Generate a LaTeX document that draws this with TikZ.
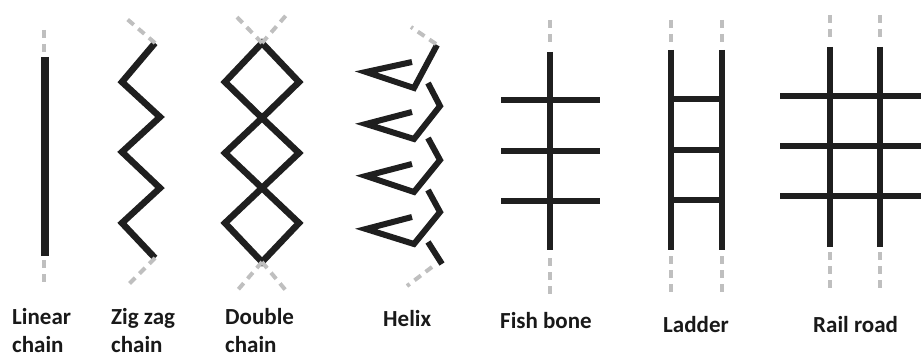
\documentclass[tikz,border=0pt]{standalone}
\usepackage{fontspec}
\setmainfont{Carlito}
\begin{document}
\begin{tikzpicture}[x=1pt,y=-1pt,
  chainline/.style={line width=6.5pt,color=black!88},
  helixline/.style={chainline,line width=6pt,line join=miter,miter limit=25},
  ghost/.style={line width=4pt,color=black!25,dash pattern=on 8pt off 6pt},
  lbl/.style={anchor=base west,inner sep=0pt,font=\fontsize{23}{28}\selectfont\bfseries,text=black!90,align=left}]
\useasboundingbox (0,0) rectangle (921,358);
% Linear chain
\draw[chainline,line width=8pt] (45,57) -- (45,256);
\draw[ghost] (44,30) -- (44,54);
\draw[ghost] (44,260) -- (44,286);
\node[lbl] (l1) at (12,324) {Linear};
\node[lbl] (l1b) at (12,352) {chain};
% Zig zag chain
\draw[chainline] (155,43) -- (122,82) -- (160,117) -- (122,152) -- (160,188) -- (122,223) -- (155,258);
\draw[ghost] (155,43) -- (127,19);
\draw[ghost] (155,258) -- (127,286);
\node[lbl] (l2) at (111,324) {Zig zag};
\node[lbl] (l2b) at (111,352) {chain};
% Double chain
\draw[chainline] (262,43) -- (225,82) -- (262,118) -- (299,82) -- cycle;
\draw[chainline] (262,118) -- (225,153) -- (262,188) -- (299,153) -- cycle;
\draw[chainline] (262,188) -- (225,223) -- (262,262) -- (299,223) -- cycle;
\draw[ghost] (262,43) -- (233,13);
\draw[ghost] (262,43) -- (289,12);
\draw[ghost] (262,262) -- (236,292);
\draw[ghost] (262,262) -- (288,293);
\node[lbl] (l3) at (225,324) {Double};
\node[lbl] (l3b) at (225,352) {chain};
% Helix
\draw[helixline] (412,62) -- (366,72) -- (414,88) -- (437,45);
\draw[helixline] (412,112) -- (366,124) -- (414,139) -- (440,106) -- (428,83);
\draw[helixline] (412,164) -- (366,176) -- (414,192) -- (440,160) -- (428,138);
\draw[helixline] (412,217) -- (366,229) -- (414,244) -- (440,212) -- (428,190);
\draw[helixline] (428,242) -- (442,264);
\draw[ghost] (436,44) -- (411,27);
\draw[ghost] (432,267) -- (407,286);
\node[lbl] (l4) at (383,326) {Helix};
% Fish bone
\draw[chainline,line width=5.5pt] (550,52) -- (550,250);
\foreach \yy in {100,151,201} \draw[chainline,line width=5.5pt] (501,\yy) -- (600,\yy);
\draw[ghost] (550,20) -- (550,46);
\draw[ghost] (550,258) -- (550,296);
\node[lbl] (l5) at (500,328) {Fish bone};
% Ladder
\draw[chainline,line width=5.5pt] (671,50) -- (671,250);
\draw[chainline,line width=5.5pt] (722,50) -- (722,250);
\foreach \yy in {99,150,200} \draw[chainline,line width=5.5pt] (671,\yy) -- (722,\yy);
\draw[ghost] (671,20) -- (671,46);
\draw[ghost] (722,20) -- (722,46);
\draw[ghost] (671,256) -- (671,296);
\draw[ghost] (722,256) -- (722,296);
\node[lbl] (l6) at (663,332) {Ladder};
% Rail road
\draw[chainline,line width=6pt] (830,47) -- (830,247);
\draw[chainline,line width=6pt] (880,47) -- (880,247);
\foreach \yy in {96,146,196} \draw[chainline,line width=6pt] (780,\yy) -- (921,\yy);
\draw[ghost] (830,15) -- (830,42);
\draw[ghost] (880,15) -- (880,42);
\draw[ghost] (830,252) -- (830,292);
\draw[ghost] (880,252) -- (880,292);
\node[lbl] (l7) at (813,332) {Rail road};
\end{tikzpicture}
\end{document}
